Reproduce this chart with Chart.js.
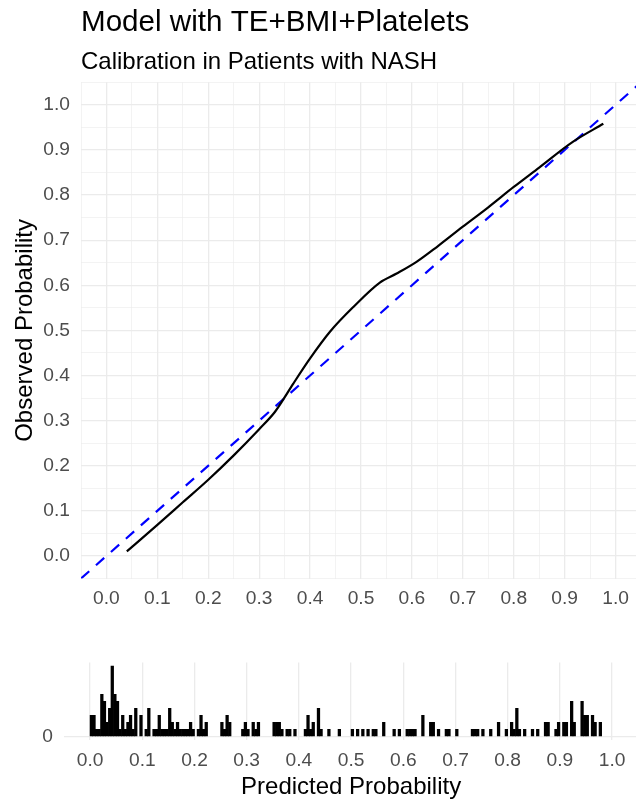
<!DOCTYPE html>
<html>
<head>
<meta charset="utf-8">
<script src="https://cdn.jsdelivr.net/npm/chart.js@4.4.1/dist/chart.umd.min.js"></script>
<style>
  html, body { margin: 0; padding: 0; background: #fff; overflow: hidden; width: 636px; height: 803px; }
  canvas { position: absolute; left: 0; }
  #graficoCalibracion { top: 0; }
  #graficoHistograma { top: 640px; }
</style>
</head>
<body>
<canvas id="graficoCalibracion" width="650" height="620"></canvas>
<canvas id="graficoHistograma" width="650" height="163"></canvas>
<script>
//---------------
// Datos
//---------------
const curvaX = [0.04, 0.10, 0.15, 0.20, 0.25, 0.30, 0.33, 0.344, 0.367, 0.40, 0.439, 0.485, 0.537, 0.57, 0.609, 0.65, 0.70, 0.75, 0.80, 0.85, 0.916, 0.976];
const curvaY = [0.01, 0.069, 0.119, 0.169, 0.223, 0.281, 0.318, 0.341, 0.382, 0.438, 0.497, 0.552, 0.606, 0.626, 0.652, 0.686, 0.73, 0.773, 0.818, 0.861, 0.918, 0.958];

// linea de referencia y = x
const diagonalX = [-0.05, 1.05];
const diagonalY = [-0.05, 1.05];

// histograma de probabilidades predichas (centro del bin, conteo)
const binCentro = [
  0.0025, 0.0075, 0.0125, 0.0175, 0.0225, 0.0275, 0.0325, 0.0375, 0.0425, 0.0475,
  0.0525, 0.0575, 0.0625, 0.0675, 0.0725, 0.0775, 0.0825, 0.0875, 0.0975, 0.1075,
  0.1125, 0.1225, 0.1275, 0.1325, 0.1375, 0.1425, 0.1475, 0.1525, 0.1575, 0.1625,
  0.1675, 0.1725, 0.1775, 0.1825, 0.1875, 0.1925, 0.1975, 0.2075, 0.2125, 0.2175,
  0.2225, 0.2525, 0.2575, 0.2625, 0.2675, 0.2925, 0.2975, 0.3025, 0.3125, 0.3175,
  0.3225, 0.3525, 0.3575, 0.3625, 0.3675, 0.3775, 0.3825, 0.3925, 0.4125, 0.4175,
  0.4225, 0.4275, 0.4375, 0.4425, 0.4575, 0.4775, 0.5025, 0.5125, 0.5225, 0.5325,
  0.5425, 0.5475, 0.5625, 0.5825, 0.5925, 0.6075, 0.6125, 0.6175, 0.6225, 0.6375,
  0.6525, 0.6575, 0.6675, 0.6825, 0.6875, 0.7025, 0.7325, 0.7375, 0.7425, 0.7525,
  0.7675, 0.7825, 0.7975, 0.8075, 0.8125, 0.8175, 0.8225, 0.8325, 0.8475, 0.8575,
  0.8725, 0.8775, 0.8925, 0.8975, 0.9075, 0.9125, 0.9225, 0.9275, 0.9425, 0.9475,
  0.9525, 0.9625, 0.9675, 0.9775
];
const binConteo = [
  3, 3, 1, 1, 6, 5, 2, 4, 10, 6,
  5, 1, 3, 1, 2, 3, 1, 4, 3, 1,
  4, 1, 1, 3, 1, 1, 1, 4, 2, 1,
  2, 1, 1, 1, 1, 2, 1, 1, 3, 1,
  2, 2, 1, 3, 2, 1, 2, 1, 2, 1,
  2, 2, 2, 2, 1, 1, 1, 1, 1, 3,
  1, 2, 4, 1, 1, 1, 1, 1, 1, 1,
  1, 1, 2, 1, 1, 1, 1, 1, 1, 3,
  2, 2, 1, 1, 1, 1, 1, 1, 1, 1,
  1, 2, 1, 2, 1, 4, 1, 1, 1, 1,
  2, 2, 1, 2, 2, 2, 5, 2, 5, 3,
  3, 3, 2, 2
];

// ticks de los ejes
const ticksMayores = [0, 0.1, 0.2, 0.3, 0.4, 0.5, 0.6, 0.7, 0.8, 0.9, 1.0];
const ticksMenores = [-0.05, 0.05, 0.15, 0.25, 0.35, 0.45, 0.55, 0.65, 0.75, 0.85, 0.95, 1.05];
const ticksConteo = [0];

//---------------
// Estilo general
//---------------
const fuente = "'Liberation Sans', Arial, sans-serif";
Chart.defaults.font.family = fuente;
const colorGrilla = '#ebebeb';
const colorTexto = '#4d4d4d';

const esMayor = v => ticksMayores.some(t => Math.abs(t - v) < 1e-6);
const todosLosTicks = s => {
  s.ticks = ticksMayores.concat(ticksMenores).sort((a, b) => a - b).map(v => ({ value: v }));
};
const etiqueta = v => esMayor(v) ? v.toFixed(1) : '';

//---------------
// Grafico de calibracion
//---------------
const graficoCalibracion = new Chart(document.getElementById('graficoCalibracion'), {
  type: 'line',
  data: {
    datasets: [
      {
        data: curvaX.map((x, i) => ({ x: x, y: curvaY[i] })),
        borderColor: '#000000', borderWidth: 2.2, pointRadius: 0,
        cubicInterpolationMode: 'monotone', fill: false
      },
      {
        data: diagonalX.map((x, i) => ({ x: x, y: diagonalY[i] })),
        borderColor: '#0000ff', borderWidth: 2.2, borderDash: [11, 9],
        pointRadius: 0, fill: false
      }
    ]
  },
  options: {
    responsive: false,
    animation: false,
    layout: { padding: { left: 0, right: 8.5, top: 0, bottom: 0 } },
    plugins: {
      legend: { display: false },
      tooltip: { enabled: false },
      title: {
        display: true, text: 'Model with TE+BMI+Platelets', align: 'start', fullSize: false,
        color: '#000000', font: { size: 29.6, weight: 'normal' }, padding: { top: 5, bottom: 0 }
      },
      subtitle: {
        display: true, text: 'Calibration in Patients with NASH', align: 'start', fullSize: false,
        color: '#000000', font: { size: 24, weight: 'normal' }, padding: { top: 7, bottom: 6 }
      }
    },
    scales: {
      x: {
        type: 'linear', min: -0.05, max: 1.05,
        afterBuildTicks: todosLosTicks,
        afterFit: s => { s.height = 41.5; },
        ticks: { callback: etiqueta, color: colorTexto, font: { size: 19.2 }, padding: 9, autoSkip: false, maxRotation: 0 },
        grid: { color: colorGrilla, lineWidth: c => esMayor(c.tick.value) ? 1.3 : 0.6, drawTicks: false },
        border: { display: false }
      },
      y: {
        type: 'linear', min: -0.05, max: 1.05,
        afterBuildTicks: todosLosTicks,
        afterFit: s => { s.width = 81; },
        ticks: { callback: etiqueta, color: colorTexto, font: { size: 19.2 }, padding: 11, autoSkip: false },
        grid: { color: colorGrilla, lineWidth: c => esMayor(c.tick.value) ? 1.3 : 0.6, drawTicks: false },
        border: { display: false },
        title: { display: true, text: 'Observed Probability', color: '#000000', font: { size: 24 }, padding: { top: 11, bottom: 0 } }
      }
    }
  }
});

//---------------
// Histograma de probabilidades predichas
//---------------
const graficoHistograma = new Chart(document.getElementById('graficoHistograma'), {
  type: 'bar',
  data: {
    datasets: [{
      data: binCentro.map((x, i) => ({ x: x, y: binConteo[i] })),
      backgroundColor: '#000000', borderWidth: 0,
      barPercentage: 1, categoryPercentage: 1
    }]
  },
  options: {
    responsive: false,
    animation: false,
    layout: { padding: { left: 0, right: 11.8, top: 22, bottom: 0 } },
    plugins: { legend: { display: false }, tooltip: { enabled: false } },
    scales: {
      x: {
        type: 'linear', min: -0.05, max: 1.05, offset: false,
        afterBuildTicks: s => { s.ticks = ticksMayores.map(v => ({ value: v })); },
        afterFit: s => { s.height = 63; },
        ticks: { callback: v => v.toFixed(1), color: colorTexto, font: { size: 19.2 }, padding: 9, autoSkip: false, maxRotation: 0 },
        grid: { color: colorGrilla, lineWidth: 1.3, drawTicks: false, offset: false },
        border: { display: false },
        title: { display: true, text: 'Predicted Probability', color: '#000000', font: { size: 24 }, padding: { top: 0, bottom: 1 } }
      },
      y: {
        type: 'linear', min: -0.5, max: 10.5,
        afterBuildTicks: s => { s.ticks = ticksConteo.map(v => ({ value: v })); },
        afterFit: s => { s.width = 64; },
        ticks: { callback: v => String(v), color: colorTexto, font: { size: 19.2 }, padding: 11 },
        grid: { color: colorGrilla, lineWidth: 1.3, drawTicks: false },
        border: { display: false }
      }
    }
  }
});
</script>
</body>
</html>
